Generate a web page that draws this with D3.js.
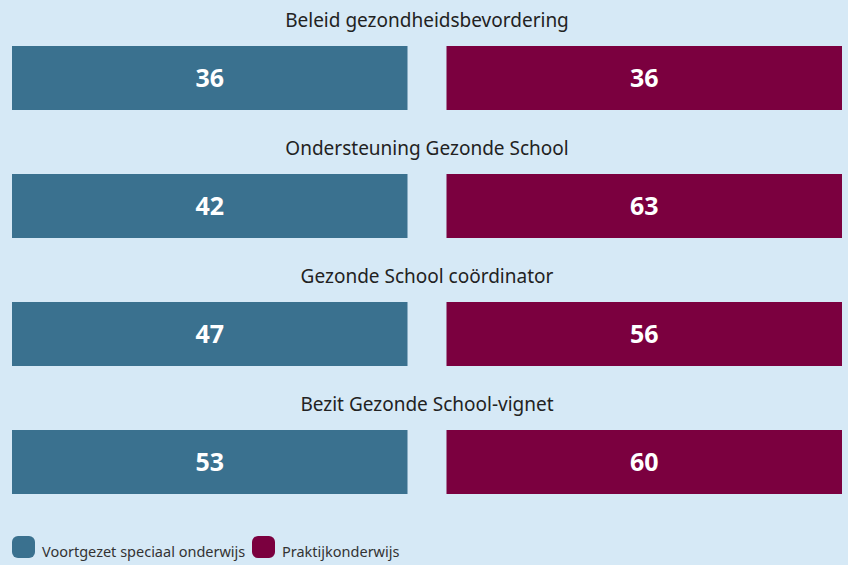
<!DOCTYPE html>
<html lang="nl">
	<head>
		<meta charset="utf-8">
		<title>Gezonde School</title>
		<script type="text/javascript" src="https://d3js.org/d3.v7.min.js"></script>
		<style type="text/css">
			body { margin: 0; background: #d6e9f6; }
			text { font-family: "Noto Sans", sans-serif; }
		</style>
	</head>
	<body>
		<script type="text/javascript">

			// Data
			var categories = ["Beleid gezondheidsbevordering", "Ondersteuning Gezonde School",
			                  "Gezonde School coördinator", "Bezit Gezonde School-vignet"];
			var seriesNames = ["Voortgezet speciaal onderwijs", "Praktijkonderwijs"];
			var vsoValues = [36, 42, 47, 53];
			var proValues = [36, 63, 56, 60];

			var colors = ["#3a718f", "#7b003f"];

			var w = 848;
			var h = 565;

			var rows = categories.map(function(c, i) {
				return { cat: c, values: [vsoValues[i], proValues[i]] };
			});

			// Scales
			var yScale = d3.scaleBand()
				.domain(categories)
				.range([0, 512])
				.paddingInner(0);

			var xScale = d3.scaleBand()
				.domain(d3.range(seriesNames.length))
				.range([12, 842])
				.paddingInner(39 / 434.5);

			var svg = d3.select("body")
						.append("svg")
						.attr("width", w)
						.attr("height", h);

			var groups = svg.selectAll("g.row")
				.data(rows)
				.enter()
				.append("g")
				.attr("class", "row")
				.attr("transform", function(d) {
					return "translate(0," + yScale(d.cat) + ")";
				});

			// Titles
			groups.append("text")
				.attr("x", 427)
				.attr("y", 27)
				.attr("text-anchor", "middle")
				.style("font-size", "19px")
				.style("fill", "#222")
				.text(function(d) { return d.cat; });

			// Bars
			groups.selectAll("rect")
				.data(function(d) { return d.values; })
				.enter()
				.append("rect")
				.attr("x", function(d, i) { return xScale(i); })
				.attr("y", 46)
				.attr("width", xScale.bandwidth())
				.attr("height", 64)
				.style("fill", function(d, i) { return colors[i]; });

			// Value labels
			groups.selectAll("text.val")
				.data(function(d) { return d.values; })
				.enter()
				.append("text")
				.attr("class", "val")
				.attr("x", function(d, i) { return xScale(i) + xScale.bandwidth() / 2; })
				.attr("y", 87)
				.attr("text-anchor", "middle")
				.style("font-size", "25px")
				.style("font-weight", "bold")
				.style("fill", "#fff")
				.text(function(d) { return d; });

			// Legend
			var legendX = [12, 252];
			var legend = svg.selectAll("g.legend")
				.data(seriesNames)
				.enter()
				.append("g")
				.attr("class", "legend")
				.attr("transform", function(d, i) {
					return "translate(" + legendX[i] + ",536)";
				});

			legend.append("rect")
				.attr("width", 23)
				.attr("height", 22)
				.attr("rx", 6)
				.style("fill", function(d, i) { return colors[i]; });

			legend.append("text")
				.attr("x", 30)
				.attr("y", 21)
				.style("font-size", "14.5px")
				.style("fill", "#333")
				.text(function(d) { return d; });

		</script>
	</body>
</html>
